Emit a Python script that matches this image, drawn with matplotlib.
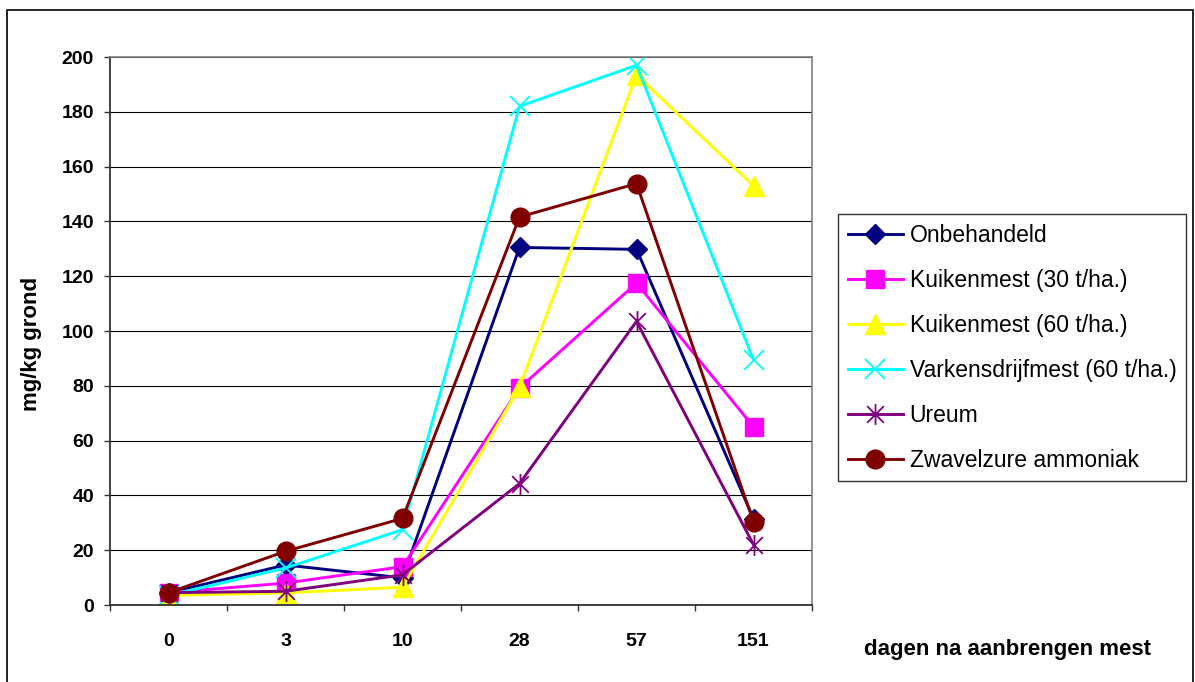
import matplotlib
matplotlib.use("Agg")
import matplotlib.pyplot as plt
from matplotlib.path import Path
from matplotlib.patches import Rectangle

plt.rcParams["font.family"] = ["Liberation Sans", "DejaVu Sans"]

# meetdagen na het aanbrengen van de mest
dagen = ["0", "3", "10", "28", "57", "151"]

# gehalte in mg/kg grond per behandeling
onbehandeld = [4.5, 14.6, 9.9, 130.5, 129.8, 31.5]
kuiken_30 = [4.5, 8.0, 14.0, 79.2, 117.5, 65.0]
kuiken_60 = [3.5, 4.4, 6.5, 79.5, 193.5, 153.0]
varkens_60 = [3.5, 13.5, 27.5, 182.0, 197.0, 89.5]
ureum = [4.5, 5.0, 11.0, 44.3, 103.5, 22.0]
zwavelzuur = [4.5, 19.6, 31.6, 141.6, 153.8, 30.3]

y_ticks = [0, 20, 40, 60, 80, 100, 120, 140, 160, 180, 200]

# asterisk zoals in Excel: kruis plus verticale streep
ster = Path(
    [(-1, -1), (1, 1), (-1, 1), (1, -1), (0, -1.25), (0, 1.25)],
    [Path.MOVETO, Path.LINETO, Path.MOVETO, Path.LINETO, Path.MOVETO, Path.LINETO],
)

series = [
    ("Onbehandeld", onbehandeld, "#000080", dict(marker="D", ms=10)),
    ("Kuikenmest (30 t/ha.)", kuiken_30, "#FF00FF", dict(marker="s", ms=13)),
    ("Kuikenmest (60 t/ha.)", kuiken_60, "#FFFF00", dict(marker="^", ms=15)),
    ("Varkensdrijfmest (60 t/ha.)", varkens_60, "#00FFFF", dict(marker="x", ms=15, mew=1.3)),
    ("Ureum", ureum, "#800080", dict(marker=ster, ms=15, mew=1.3, mfc="none")),
    ("Zwavelzure ammoniak", zwavelzuur, "#800000", dict(marker="o", ms=13.5)),
]

W, H = 1195, 682
fig = plt.figure(figsize=(W / 100, H / 100), dpi=100)

# plotgebied in pixels: links 110, rechts 812, boven 57, onder 605
ax = fig.add_axes([110 / W, (H - 605) / H, 702 / W, 548 / H])

x = list(range(len(dagen)))
for naam, waarden, kleur, stijl in series:
    ax.plot(x, waarden, color=kleur, lw=2.1, label=naam, mec=kleur, mfc=stijl.pop("mfc", kleur), **stijl)

ax.set_xlim(-0.5, len(dagen) - 0.5)
ax.set_ylim(0, 200)
ax.set_yticks(y_ticks)
ax.set_yticklabels([str(v) for v in y_ticks], fontsize=14, fontweight="bold")
ax.set_xticks(x)
ax.set_xticklabels(dagen, fontsize=14, fontweight="bold")
ax.set_xticks([i - 0.5 for i in range(len(dagen) + 1)], minor=True)
ax.tick_params(axis="x", which="major", length=0, pad=20)
ax.tick_params(axis="x", which="minor", length=4.5, width=1, color="#333333")
ax.tick_params(axis="y", length=4.5, width=1, pad=7, color="#333333")

ax.grid(axis="y", color="black", lw=0.8)
ax.set_axisbelow(True)
for kant in ("top", "right"):
    ax.spines[kant].set_color("#808080")
    ax.spines[kant].set_linewidth(1.2)
for kant in ("left", "bottom"):
    ax.spines[kant].set_color("#333333")
    ax.spines[kant].set_linewidth(1.3)

fig.text(31 / W, 1 - 344 / H, "mg/kg grond", rotation=90, fontsize=16,
         fontweight="bold", ha="center", va="center")
fig.text(1008 / W, 1 - 650 / H, "dagen na aanbrengen mest", fontsize=16,
         fontweight="bold", ha="center", va="center")

leg = fig.legend(
    loc="upper left",
    bbox_to_anchor=(838 / W, 1 - 214 / H),
    bbox_transform=fig.transFigure,
    borderaxespad=0,
    fontsize=16.5,
    frameon=True,
    fancybox=False,
    edgecolor="black",
    handlelength=2.4,
    handletextpad=0.3,
    labelspacing=0.96,
    borderpad=0.42,
    numpoints=1,
)
leg.get_frame().set_linewidth(1.0)

# rand om de hele grafiek
fig.patches.append(Rectangle((7 / W, -0.01), 1186 / W, 1 - 10 / H + 0.01,
                             transform=fig.transFigure, fill=False,
                             edgecolor="black", lw=1.2))

fig.savefig("out.png", dpi=100)
